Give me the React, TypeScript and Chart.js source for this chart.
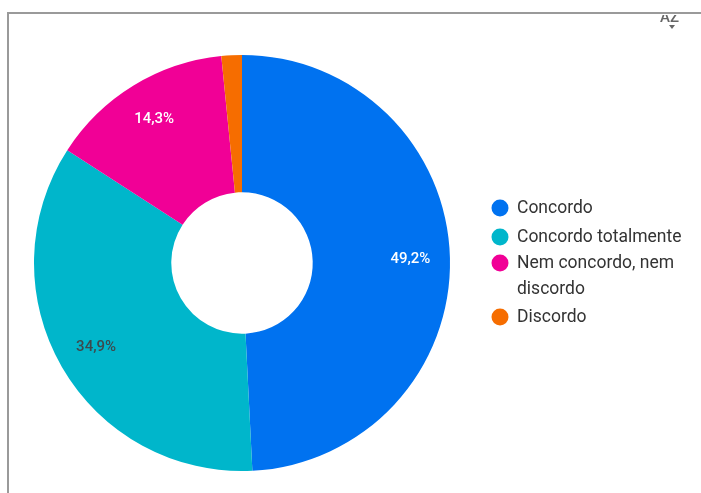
import React, { useEffect, useRef } from "react";
import { Chart, registerables } from "chart.js";

Chart.register(...registerables);

const categories: string[] = ["Concordo", "Concordo totalmente", "Nem concordo, nem discordo", "Discordo"];
const legendLines: string[][] = [["Concordo"], ["Concordo totalmente"], ["Nem concordo, nem", "discordo"], ["Discordo"]];
const responses: number[] = [31, 22, 9, 1];
const sliceLabels: string[] = ["49,2%", "34,9%", "14,3%", ""];
const sliceColors: string[] = ["#0072f0", "#00b6cb", "#f10096", "#f66d00"];
const labelColors: string[] = ["#ffffff", "#3c4a4e", "#ffffff", "#ffffff"];

const FONT = "Roboto, 'Noto Sans', sans-serif";

const sliceLabelPlugin = {
  id: "sliceLabels",
  afterDatasetsDraw(chart: any) {
    const ctx = chart.ctx;
    const meta = chart.getDatasetMeta(0);
    ctx.save();
    ctx.font = `500 15px ${FONT}`;
    ctx.textAlign = "center";
    ctx.textBaseline = "middle";
    meta.data.forEach((arc: any, i: number) => {
      const txt = sliceLabels[i];
      if (!txt) return;
      const p = arc.getProps(["x", "y", "startAngle", "endAngle", "outerRadius"], true);
      const mid = (p.startAngle + p.endAngle) / 2;
      const r = p.outerRadius * 0.81;
      ctx.fillStyle = labelColors[i];
      ctx.fillText(txt, p.x + Math.cos(mid) * r, p.y + Math.sin(mid) * r);
    });
    ctx.restore();
  },
};

const legendPlugin = {
  id: "customLegend",
  afterDraw(chart: any) {
    const ctx = chart.ctx;
    const x0 = 500;
    const rowStarts = [208, 237, 263, 317];
    const lineGap = 26;
    ctx.save();
    ctx.font = `17.5px ${FONT}`;
    ctx.textBaseline = "middle";
    ctx.textAlign = "left";
    chart.data.labels.forEach((_: string, i: number) => {
      const y = rowStarts[i];
      ctx.fillStyle = sliceColors[i];
      ctx.beginPath();
      ctx.arc(x0, y, 8.5, 0, Math.PI * 2);
      ctx.fill();
      ctx.fillStyle = "#333333";
      legendLines[i].forEach((ln, k) => {
        ctx.fillText(ln, x0 + 17, y + 1 + k * lineGap);
      });
    });
    ctx.restore();
  },
};

export default function App() {
  const ref = useRef<HTMLCanvasElement>(null);
  useEffect(() => {
    document.body.style.margin = "0";
    const chart = new Chart(ref.current!, {
      type: "doughnut",
      data: {
        labels: categories,
        datasets: [
          {
            data: responses,
            backgroundColor: sliceColors,
            borderWidth: 0,
          },
        ],
      },
      options: {
        animation: false,
        responsive: false,
        cutout: "34%",
        layout: { padding: { left: 34, top: 55, right: 251, bottom: 22 } },
        plugins: {
          legend: { display: false },
          tooltip: { enabled: false },
        },
      },
      plugins: [sliceLabelPlugin, legendPlugin],
    });
    return () => chart.destroy();
  }, []);
  return (
    <div style={{ position: "relative", width: 701, height: 493, background: "#fff", overflow: "hidden" }}>
      <canvas ref={ref} width={701} height={493} style={{ position: "absolute", left: 0, top: 0 }} />
      <div
        style={{
          position: "absolute",
          left: 7,
          top: 12,
          width: 720,
          height: 520,
          borderTop: "2px solid #9a9a9a",
          borderLeft: "2px solid #9a9a9a",
          pointerEvents: "none",
        }}
      />
      <div
        style={{
          position: "absolute",
          left: 660,
          top: 10,
          fontFamily: FONT,
          fontSize: 15,
          fontWeight: 500,
          color: "#666",
          lineHeight: "15px",
          clipPath: "inset(5px 0 0 0)",
        }}
      >
        AZ
      </div>
      <div
        style={{
          position: "absolute",
          left: 669,
          top: 25,
          width: 0,
          height: 0,
          borderLeft: "3px solid transparent",
          borderRight: "3px solid transparent",
          borderTop: "4px solid #666",
        }}
      />
    </div>
  );
}
